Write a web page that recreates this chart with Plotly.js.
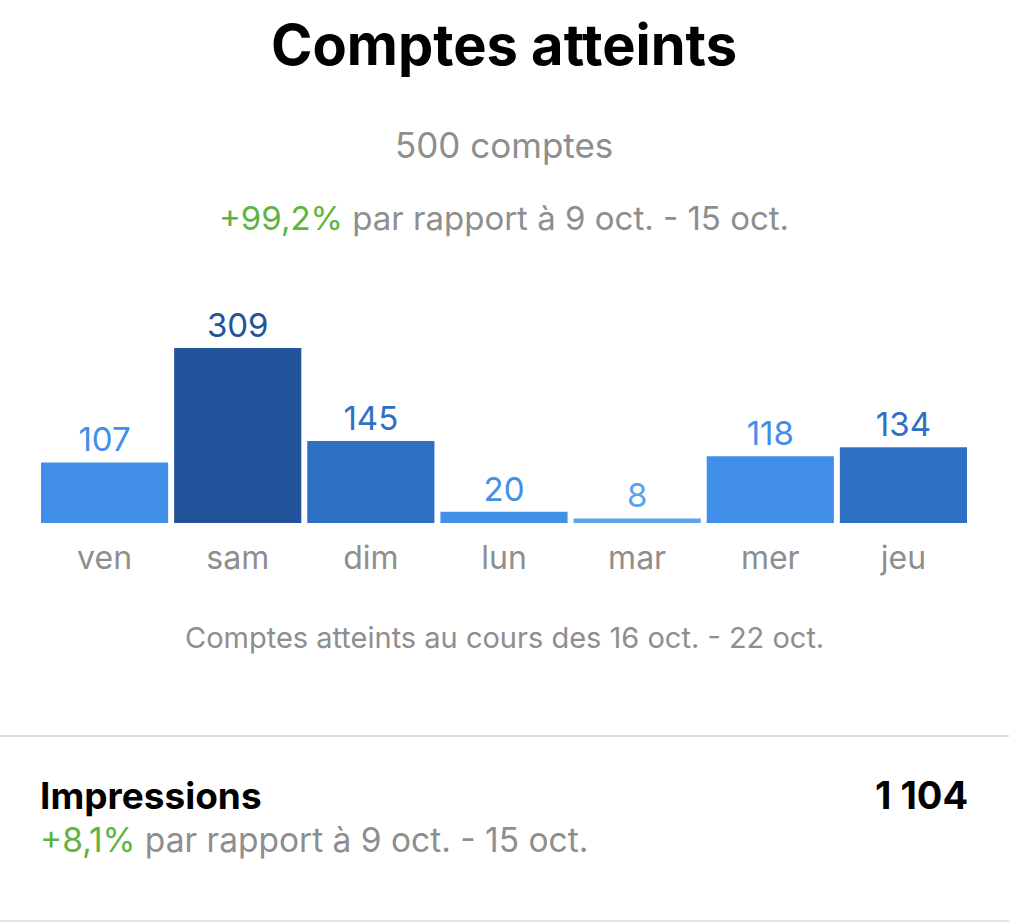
<!DOCTYPE html>
<html>
<head>
<meta charset="utf-8">
<script src="https://cdn.plot.ly/plotly-3.0.1.min.js"></script>
<style>
html,body{margin:0;padding:0;background:#fff;}
#chart{width:1009px;height:924px;}
</style>
</head>
<body>
<div id="chart"></div>
<script>
const days = ['ven','sam','dim','lun','mar','mer','jeu'];
const reached = [107,309,145,20,8,118,134];
const barColors = ['#418FE8','#23539A','#3070C4','#418FE8','#5DA2EF','#418FE8','#3070C4'];
const totalLabel = '500 comptes';
const changeReached = '+99,2%';
const compareText = ' par rapport à 9 oct. - 15 oct.';
const periodText = 'Comptes atteints au cours des 16 oct. - 22 oct.';
const impressionsLabel = 'Impressions';
const impressionsValue = '1 104';
const changeImpressions = '+8,1%';

const W = 1009, H = 924;
const mL = 38, mR = 39, plotTop = 300, plotBottom = 523;
const plotH = plotBottom - plotTop;
const py = p => (plotBottom - p) / plotH;           // pixel y -> paper y
const px = p => (p - mL) / (W - mL - mR);            // pixel x -> paper x
const FONT = 'Inter, Roboto, sans-serif';
const GRAY = '#8E8E8E', GREEN = '#5DB53F';

const trace = {
  type: 'bar',
  x: days,
  y: reached,
  marker: {color: barColors, line: {width: 0}},
  text: reached.map(String),
  textposition: 'outside',
  cliponaxis: false,
  textfont: {family: FONT, size: 33, color: barColors},
  hoverinfo: 'x+y'
};

const layout = {
  width: W, height: H,
  margin: {l: mL, r: mR, t: plotTop, b: H - plotBottom, pad: 0},
  paper_bgcolor: '#fff', plot_bgcolor: '#fff',
  showlegend: false,
  bargap: 0.045,
  title: {
    text: '<b>Comptes atteints</b>',
    font: {family: FONT, size: 56, color: '#000'},
    x: 0.5, xref: 'paper', xanchor: 'center',
    y: 1 - 45 / H, yref: 'container', yanchor: 'middle'
  },
  xaxis: {
    type: 'category',
    showgrid: false, zeroline: false, showline: false,
    ticks: '', ticklabelstandoff: 13,
    tickfont: {family: FONT, size: 32, color: GRAY},
    fixedrange: true
  },
  yaxis: {
    range: [0, plotH / 0.566],
    visible: false, showgrid: false, zeroline: false,
    fixedrange: true
  },
  annotations: [
    {text: totalLabel, xref: 'paper', yref: 'paper', x: 0.5, y: py(145),
     xanchor: 'center', yanchor: 'middle', showarrow: false,
     font: {family: FONT, size: 35, color: GRAY}},
    {text: '<span style="color:' + GREEN + '">' + changeReached + '</span>' + compareText,
     xref: 'paper', yref: 'paper', x: 0.5, y: py(218),
     xanchor: 'center', yanchor: 'middle', showarrow: false,
     font: {family: FONT, size: 33, color: GRAY}},
    {text: periodText, xref: 'paper', yref: 'paper', x: 0.5, y: py(637),
     xanchor: 'center', yanchor: 'middle', showarrow: false,
     font: {family: FONT, size: 29, color: GRAY}},
    {text: '<b>' + impressionsLabel + '</b>', xref: 'paper', yref: 'paper', x: px(38), y: py(795),
     xanchor: 'left', yanchor: 'middle', showarrow: false,
     font: {family: FONT, size: 37, color: '#000'}},
    {text: '<b>' + impressionsValue + '</b>', xref: 'paper', yref: 'paper', x: px(970), y: py(795),
     xanchor: 'right', yanchor: 'middle', showarrow: false,
     font: {family: FONT, size: 38, color: '#000'}},
    {text: '<span style="color:' + GREEN + '">' + changeImpressions + '</span>' + compareText,
     xref: 'paper', yref: 'paper', x: px(38), y: py(840),
     xanchor: 'left', yanchor: 'middle', showarrow: false,
     font: {family: FONT, size: 33.5, color: GRAY}}
  ],
  shapes: [
    {type: 'line', xref: 'paper', yref: 'paper', x0: px(0), x1: px(W), y0: py(736), y1: py(736),
     line: {color: '#DCDCDC', width: 2}},
    {type: 'line', xref: 'paper', yref: 'paper', x0: px(0), x1: px(W), y0: py(921), y1: py(921),
     line: {color: '#E4E4E4', width: 2}}
  ]
};

Plotly.newPlot('chart', [trace], layout, {displayModeBar: false, staticPlot: false});
</script>
</body>
</html>
